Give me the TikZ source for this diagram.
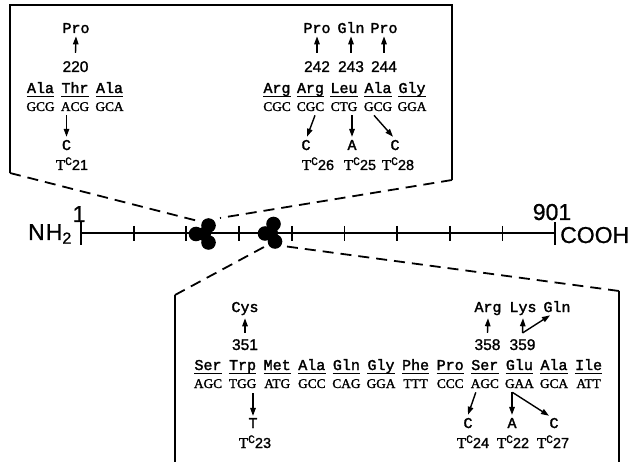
\documentclass[tikz,border=0pt]{standalone}
\usepackage{fontspec}
\setmainfont{Liberation Serif}[FakeBold=1.6]
\newfontfamily\aaf{Liberation Mono}[FakeBold=2]
\newfontfamily\numf{Liberation Sans}[FakeBold=1.2]
\newfontfamily\sansf{Liberation Sans}[FakeBold=0.8]
\usetikzlibrary{arrows.meta,calc}
\newcommand\tcl[1]{{\rmfamily\fontsize{15}{15}\selectfont T}\raisebox{5pt}{\aaf\fontsize{11.5}{11.5}\selectfont C}{\numf\fontsize{14.5}{14.5}\selectfont #1}}
\begin{document}
\begin{tikzpicture}[x=1pt,y=-1pt,
  aa/.style={font=\aaf\fontsize{15}{15}\selectfont,inner sep=0pt,anchor=base},
  num/.style={font=\numf\fontsize{15.5}{15.5}\selectfont,inner sep=0pt,anchor=base},
  cod/.style={font=\rmfamily\fontsize{13.3}{13.3}\selectfont,inner sep=0pt,anchor=base},
  tcn/.style={inner sep=0pt,anchor=base},
  lbl/.style={font=\sansf\fontsize{23}{23}\selectfont,inner sep=0pt,anchor=base},
  arr/.style={line width=1.4pt,-{Triangle[length=8pt,width=5.5pt]}},
  uline/.style={line width=1.3pt},
  boxl/.style={line width=1.8pt},
  dsh/.style={line width=1.8pt,dash pattern=on 11pt off 7pt},
  axisl/.style={line width=2.6pt},
  tickl/.style={line width=1.7pt},
  blob/.style={fill=black,draw=none}
]
\useasboundingbox (0,0) rectangle (634,462);

% ---------------- axis ----------------
\coordinate (ax0) at (81,233);
\coordinate (ax1) at (555,233);
\draw[axisl] (ax0) -- (ax1);
\draw[tickl] (81,222) -- (81,245);
\draw[tickl] (555,222) -- (555,245);
\foreach \k in {1,...,8} \draw[tickl] ({81+52.67*\k},226) -- ({81+52.67*\k},241);
\node[lbl,font=\sansf\fontsize{23}{23}\selectfont] (nh2) at (50,240) {N\kern1pt H\textsubscript{2}};
\node[lbl] (one) at (79,222) {1};
\node[lbl] (n901) at (552,220) {901};
\node[lbl,anchor=base west] (cooh) at (560,243) {COOH};

% blobs
\fill[blob] (196,234) circle (7.3);
\fill[blob] (208.5,225.5) circle (7.3);
\fill[blob] (208.5,242.5) circle (7.3);
\fill[blob] (204,234) circle (7);
\fill[blob] (265,233.5) circle (7.3);
\fill[blob] (273.5,224) circle (7.3);
\fill[blob] (275,241.5) circle (7.3);
\fill[blob] (271,233) circle (7);
\coordinate (b1l) at (198,221);
\coordinate (b1r) at (220,218);
\coordinate (b2l) at (264,247);
\coordinate (b2r) at (283,246);

% ---------------- top box ----------------
\coordinate (tbl) at (10,173);
\coordinate (tbr) at (452,180);
\draw[boxl] (tbl) -- (10,5) -- (452,5) -- (tbr);
\draw[dsh] (tbl) -- (b1l);
\draw[dsh] (tbr) -- (b1r);

% top-left group
\foreach \i/\a/\c/\x in {1/Ala/GCG/40.5, 2/Thr/ACG/75, 3/Ala/GCA/109.5} {
  \node[aa] (ta\i) at (\x,93) {\a};
  \node[cod] (tc\i) at (\x,111) {\c};
  \draw[uline] ($(ta\i.base west)+(0,3.5)$) -- ($(ta\i.base east)+(0,3.5)$);
}
\node[aa] (p220) at (76,33) {Pro};
\node[num] (n220) at (75.5,72) {220};
\draw[arr] ($(n220.north)+(0,-8)$) -- ($(p220.south)+(0,3)$);
\node[aa] (c21) at (66.5,150) {C};
\node[tcn] (t21) at (72,170) {\tcl{21}};
\draw[arr] ($(tc2.south -| c21.north)+(0,4)$) -- ($(c21.north)+(0,-3)$);

% top-right group
\foreach \i/\a/\c/\x in {1/Arg/CGC/277, 2/Arg/CGC/310.5, 3/Leu/CTG/344, 4/Ala/GCG/378, 5/Gly/GGA/412} {
  \node[aa] (ra\i) at (\x,93) {\a};
  \node[cod] (rc\i) at (\x,111) {\c};
  \draw[uline] ($(ra\i.base west)+(0,3.5)$) -- ($(ra\i.base east)+(0,3.5)$);
}
\node[aa] (p242) at (317,33) {Pro};
\node[aa] (q243) at (351,33) {Gln};
\node[aa] (p244) at (384,33) {Pro};
\node[num] (n242) at (317,72) {242};
\node[num] (n243) at (351,72) {243};
\node[num] (n244) at (384,72) {244};
\draw[arr] ($(n242.north)+(0,-8)$) -- ($(p242.south)+(0,3)$);
\draw[arr] ($(n243.north)+(0,-8)$) -- ($(q243.south)+(0,3)$);
\draw[arr] ($(n244.north)+(0,-8)$) -- ($(p244.south)+(0,3)$);
\node[aa] (c26) at (306,150) {C};
\node[aa] (a25) at (352,150) {A};
\node[aa] (c28) at (395,150) {C};
\node[tcn] (t26) at (318,170) {\tcl{26}};
\node[tcn] (t25) at (360,170) {\tcl{25}};
\node[tcn] (t28) at (398,170) {\tcl{28}};
\draw[arr] ($(rc2.south)+(4.5,4)$) -- ($(c26.north)+(1,-3)$);
\draw[arr] ($(rc3.south -| a25.north)+(0,4)$) -- ($(a25.north)+(0,-3)$);
\draw[arr] ($(rc4.south)+(-4,4)$) -- ($(c28.north)+(-2,-3)$);

% ---------------- bottom box ----------------
\coordinate (bbl) at (175,295);
\coordinate (bbr) at (619,291);
\draw[boxl] (175,462) -- (bbl);
\draw[boxl] (619,462) -- (bbr);
\draw[dsh] (bbl) -- (b2l);
\draw[dsh] (bbr) -- (b2r);

\foreach \i/\a/\c in {0/Ser/AGC, 1/Trp/TGG, 2/Met/ATG, 3/Ala/GCC, 4/Gln/CAG, 5/Gly/GGA, 6/Phe/TTT, 7/Pro/CCC, 8/Ser/AGC, 9/Glu/GAA, 10/Ala/GCA, 11/Ile/ATT} {
  \node[aa] (ba\i) at ({208+34.6*\i},370) {\a};
  \node[cod] (bc\i) at ({208+34.6*\i},388) {\c};
  \draw[uline] ($(ba\i.base west)+(0,3.5)$) -- ($(ba\i.base east)+(0,3.5)$);
}
\node[aa] (cys) at (245,312) {Cys};
\node[num] (n351) at (245,350) {351};
\draw[arr] ($(n351.north)+(0,-6)$) -- ($(cys.south)+(0,3)$);
\node[aa] (arg) at (488,312) {Arg};
\node[aa] (lys) at (523,312) {Lys};
\node[aa] (gln) at (557,312) {Gln};
\node[num] (n358) at (487.5,350) {358};
\node[num] (n359) at (522.5,350) {359};
\draw[arr] ($(n358.north)+(0,-6)$) -- ($(arg.south)+(0,3)$);
\draw[arr] ($(n359.north)+(0,-6)$) -- ($(lys.south)+(0,3)$);
\draw[arr] ($(n359.north)+(0,-6)$) -- ($(gln.south)+(-7,3)$);

\node[aa] (t23) at (253,428) {T};
\node[tcn] (l23) at (255,448) {\tcl{23}};
\draw[arr] ($(bc1.south -| t23.north)+(0,5)$) -- ($(t23.north)+(0,-2)$);

\node[aa] (c24) at (468,428) {C};
\node[aa] (a22) at (512,428) {A};
\node[aa] (c27) at (554,428) {C};
\node[tcn] (l24) at (473,448) {\tcl{24}};
\node[tcn] (l22) at (513,448) {\tcl{22}};
\node[tcn] (l27) at (553,448) {\tcl{27}};
\draw[arr] ($(bc8.south)+(-9,4)$) -- ($(c24.north)+(0,-3)$);
\draw[arr] ($(bc9.south -| a22.north)+(0,4)$) -- ($(a22.north)+(0,-3)$);
\draw[arr] ($(bc9.south)+(-7,4)$) -- ($(c27.north)+(-5,-2)$);
\end{tikzpicture}
\end{document}
